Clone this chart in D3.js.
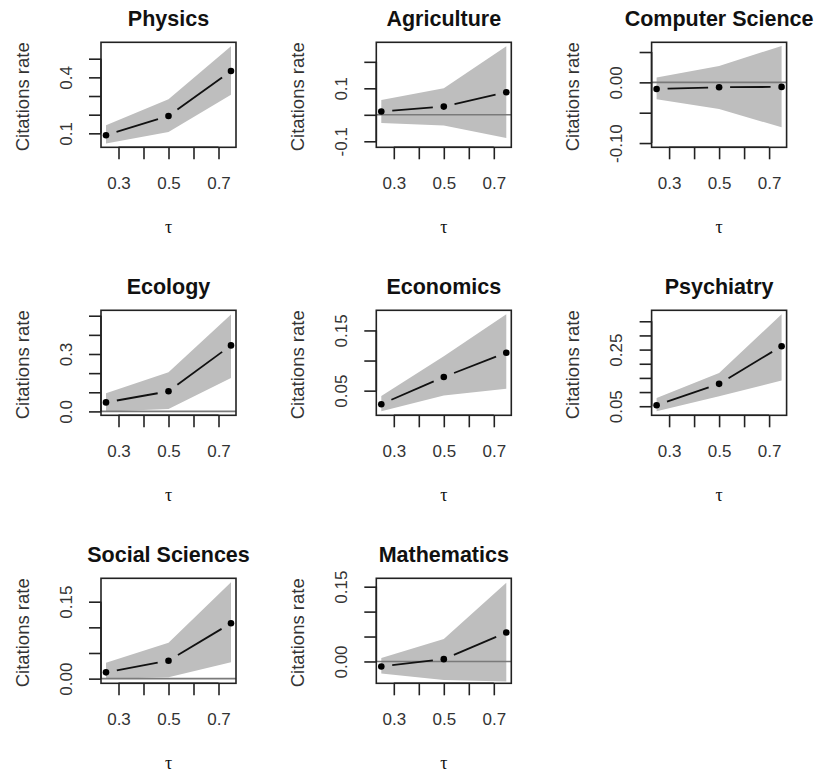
<!DOCTYPE html>
<meta charset="utf-8">
<script src="https://cdn.jsdelivr.net/npm/d3@7"></script>
<head>
	<title>Quantile regression coefficients by field</title>
	<style>
		body { margin: 0; background: #fff; }
		text { font-family: "Liberation Sans", Arial, Helvetica, sans-serif; fill: #111; }
		.title { font-weight: bold; font-size: 21.5px; }
		.tick-label { font-size: 17px; fill: #333; }
		.ylab { font-size: 18.5px; fill: #333; }
		.xlab { font-family: "Liberation Serif", "DejaVu Serif", serif; font-size: 18px; }
	</style>
</head>
<body>
<div id="chart"></div>
<script>
	// quantiles
	var taus = [0.25, 0.5, 0.75];

	var fields = ["Physics", "Agriculture", "Computer Science", "Ecology", "Economics",
		"Psychiatry", "Social Sciences", "Mathematics"];

	// coefficient estimates at each tau
	var estimates = [
		[0.090, 0.193, 0.434],
		[0.0125, 0.031, 0.085],
		[-0.011, -0.008, -0.0075],
		[0.047, 0.105, 0.345],
		[0.0275, 0.0727, 0.113],
		[0.0535, 0.129, 0.262],
		[0.0123, 0.035, 0.108],
		[-0.010, 0.0046, 0.058]
	];

	// confidence band, lower and upper
	var lower = [
		[0.046, 0.107, 0.307],
		[-0.031, -0.040, -0.088],
		[-0.028, -0.044, -0.074],
		[0.0, 0.013, 0.174],
		[0.0157, 0.042, 0.053],
		[0.032, 0.085, 0.141],
		[0.0, 0.0026, 0.032],
		[-0.024, -0.037, -0.040]
	];
	var upper = [
		[0.143, 0.282, 0.567],
		[0.056, 0.100, 0.259],
		[0.008, 0.027, 0.060],
		[0.095, 0.204, 0.506],
		[0.041, 0.107, 0.177],
		[0.079, 0.167, 0.375],
		[0.031, 0.070, 0.188],
		[0.0067, 0.045, 0.158]
	];

	// y limits used for each panel (before the 4% padding)
	var ylims = [
		[0.046, 0.567],
		[-0.108, 0.259],
		[-0.1006, 0.0596],
		[0.0, 0.508],
		[0.0155, 0.177],
		[0.0317, 0.375],
		[-0.0015, 0.188],
		[-0.036, 0.159]
	];

	// y ticks and the labels that are printed (blank = tick only)
	var yTicks = [
		[0.1, 0.2, 0.3, 0.4, 0.5],
		[-0.1, 0.0, 0.1, 0.2],
		[-0.10, -0.05, 0.00, 0.05],
		[0.0, 0.1, 0.2, 0.3, 0.4, 0.5],
		[0.05, 0.10, 0.15],
		[0.05, 0.10, 0.15, 0.20, 0.25, 0.30, 0.35],
		[0.00, 0.05, 0.10, 0.15],
		[0.00, 0.05, 0.10, 0.15]
	];
	var yTickLabels = [
		["0.1", "", "", "0.4", ""],
		["-0.1", "", "0.1", ""],
		["-0.10", "", "0.00", ""],
		["0.0", "", "", "0.3", "", ""],
		["0.05", "", "0.15"],
		["0.05", "", "", "", "0.25", "", ""],
		["0.00", "", "", "0.15"],
		["0.00", "", "", "0.15"]
	];

	var xTicks = [0.3, 0.4, 0.5, 0.6, 0.7];
	var xTickLabels = ["0.3", "", "0.5", "", "0.7"];

	// layout
	var width = 821, height = 776;
	var colStep = 275.3, rowStep = 268,
		boxLeft = 101, boxTop = 42.3,
		boxW = 135, boxH = 105,
		tickLen = 12, gap = 11;

	var svg = d3.select("#chart")
		.append("svg")
		.attr("width", width)
		.attr("height", height);

	function pad(lim) {
		var d = (lim[1] - lim[0]) * 0.04;
		return [lim[0] - d, lim[1] + d];
	}

	var x = d3.scaleLinear()
		.domain(pad(d3.extent(taus)))
		.range([0, boxW]);

	fields.forEach(function(name, i) {
		var col = i % 3, row = Math.floor(i / 3);
		var g = svg.append("g")
			.attr("transform", "translate(" + (boxLeft + col * colStep) + "," + (boxTop + row * rowStep) + ")");

		var y = d3.scaleLinear()
			.domain(pad(ylims[i]))
			.range([boxH, 0]);

		var rows = taus.map(function(t, k) {
			return {tau: t, est: estimates[i][k], lo: lower[i][k], hi: upper[i][k]};
		});

		// confidence band
		var area = d3.area()
			.x(function(d) { return x(d.tau); })
			.y0(function(d) { return y(d.lo); })
			.y1(function(d) { return y(d.hi); });

		g.append("path")
			.datum(rows)
			.attr("d", area)
			.attr("fill", "#bebebe")
			.attr("stroke", "none");

		// zero reference line
		var yd = y.domain();
		if (yd[0] < 0 && yd[1] > 0) {
			g.append("line")
				.attr("x1", 0).attr("x2", boxW)
				.attr("y1", y(0)).attr("y2", y(0))
				.attr("stroke", "#7a7a7a")
				.attr("stroke-width", 1.6);
		}

		// type = "b": line segments with gaps around the points
		for (var k = 0; k < rows.length - 1; k++) {
			var x0 = x(rows[k].tau), y0 = y(rows[k].est),
				x1 = x(rows[k + 1].tau), y1 = y(rows[k + 1].est);
			var len = Math.sqrt((x1 - x0) * (x1 - x0) + (y1 - y0) * (y1 - y0));
			var ux = (x1 - x0) / len, uy = (y1 - y0) / len;
			g.append("line")
				.attr("x1", x0 + ux * gap).attr("y1", y0 + uy * gap)
				.attr("x2", x1 - ux * gap).attr("y2", y1 - uy * gap)
				.attr("stroke", "#111")
				.attr("stroke-width", 1.8);
		}

		g.selectAll("circle")
			.data(rows)
			.enter()
			.append("circle")
			.attr("cx", function(d) { return x(d.tau); })
			.attr("cy", function(d) { return y(d.est); })
			.attr("r", 3.3)
			.attr("fill", "#000");

		// box
		g.append("rect")
			.attr("width", boxW)
			.attr("height", boxH)
			.attr("fill", "none")
			.attr("stroke", "#222")
			.attr("stroke-width", 1.6);

		// x axis
		var xAxis = d3.axisBottom(x)
			.tickValues(xTicks)
			.tickSize(tickLen)
			.tickPadding(18)
			.tickFormat(function(d, j) { return xTickLabels[j]; });

		var gx = g.append("g")
			.attr("transform", "translate(0," + boxH + ")")
			.call(xAxis);
		gx.select(".domain")
			.attr("d", "M" + x(xTicks[0]) + ",0H" + x(xTicks[xTicks.length - 1]));

		// y axis
		var yAxis = d3.axisLeft(y)
			.tickValues(yTicks[i])
			.tickSize(tickLen)
			.tickFormat(function(d, j) { return yTickLabels[i][j]; });

		var gy = g.append("g").call(yAxis);
		var yt = yTicks[i];
		gy.select(".domain")
			.attr("d", "M0," + y(yt[0]) + "V" + y(yt[yt.length - 1]));

		gy.selectAll(".tick text")
			.attr("x", null).attr("dy", null)
			.attr("transform", "translate(-35,0) rotate(-90)")
			.attr("text-anchor", "middle")
			.attr("dominant-baseline", "central");

		[gx, gy].forEach(function(a) {
			a.attr("font-family", null).attr("font-size", null);
			a.selectAll("path, line").attr("stroke", "#222").attr("stroke-width", 1.6);
			a.selectAll("text").attr("class", "tick-label").attr("fill", null);
		});

		// title and axis titles
		g.append("text")
			.attr("class", "title")
			.attr("x", boxW / 2)
			.attr("y", -16)
			.attr("text-anchor", "middle")
			.text(name);

		g.append("text")
			.attr("class", "xlab")
			.attr("x", boxW / 2)
			.attr("y", boxH + 86)
			.attr("text-anchor", "middle")
			.text("τ");

		g.append("text")
			.attr("class", "ylab")
			.attr("transform", "translate(-79," + (boxH / 2 + 2) + ") rotate(-90)")
			.attr("text-anchor", "middle")
			.attr("dominant-baseline", "central")
			.text("Citations rate");
	});
</script>
</body>
